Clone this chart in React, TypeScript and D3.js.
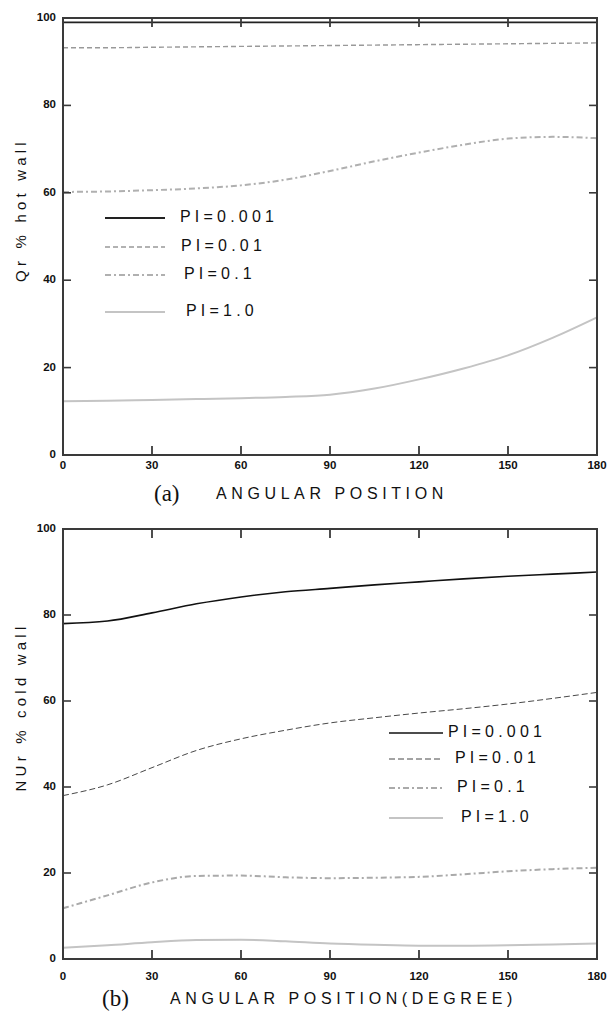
import React from "react";
import * as d3 from "d3";

const angles = [0, 15, 30, 45, 60, 75, 90, 105, 120, 135, 150, 165, 180];
const xTicks = [0, 30, 60, 90, 120, 150, 180];
const yTicks = [0, 20, 40, 60, 80, 100];
const legendLabels = ["PI=0.001", "PI=0.01", "PI=0.1", "PI=1.0"];

// (a) Qr % hot wall
const qrPi0001 = [99.0, 99.0, 99.0, 99.0, 99.0, 99.0, 99.0, 99.0, 99.0, 99.0, 99.0, 99.0, 99.0];
const qrPi001 = [93.2, 93.2, 93.3, 93.4, 93.5, 93.6, 93.7, 93.8, 93.9, 94.0, 94.1, 94.2, 94.3];
const qrPi01 = [60.2, 60.3, 60.6, 61.0, 61.7, 63.0, 65.0, 67.2, 69.2, 71.0, 72.4, 72.8, 72.5];
const qrPi1 = [12.3, 12.4, 12.6, 12.8, 13.0, 13.3, 13.8, 15.2, 17.3, 19.8, 22.8, 26.8, 31.5];

// (b) NUr % cold wall
const nuPi0001 = [78.0, 78.6, 80.5, 82.6, 84.2, 85.4, 86.2, 87.0, 87.7, 88.4, 89.0, 89.5, 90.0];
const nuPi001 = [38.0, 40.5, 44.5, 48.5, 51.2, 53.2, 54.9, 56.1, 57.2, 58.2, 59.3, 60.6, 62.0];
const nuPi01 = [11.8, 14.8, 17.8, 19.3, 19.4, 19.0, 18.8, 18.9, 19.1, 19.7, 20.4, 20.9, 21.2];
const nuPi1 = [2.6, 3.2, 3.9, 4.4, 4.5, 4.1, 3.6, 3.3, 3.1, 3.1, 3.2, 3.4, 3.6];

type Style = { stroke: string; width: number; dash?: string };

const stylesA: Style[] = [
  { stroke: "#222", width: 1.8 },
  { stroke: "#999", width: 1.4, dash: "5,3" },
  { stroke: "#b0b0b0", width: 2, dash: "6,3,2,3" },
  { stroke: "#c4c4c4", width: 2 },
];
const stylesB: Style[] = [
  { stroke: "#111", width: 1.6 },
  { stroke: "#333", width: 0.9, dash: "6,3" },
  { stroke: "#aaa", width: 2, dash: "6,3,2,3" },
  { stroke: "#c4c4c4", width: 2 },
];

const X0 = 63;
const X1 = 597;

interface PanelProps {
  yTop: number;
  yBot: number;
  series: number[][];
  styles: Style[];
  yTitle: string;
  yTitleX: number;
  yTitleY: number;
  legendX: [number, number];
  legendTextX: number[];
  legendY: number[];
  tickLabelY: number;
  letter: string;
  letterX: number;
  title: string;
  titleX: number;
  titleY: number;
}

function Panel(p: PanelProps) {
  const x = d3.scaleLinear().domain([0, 180]).range([X0, X1]);
  const y = d3.scaleLinear().domain([0, 100]).range([p.yBot, p.yTop]);
  const line = d3
    .line<number>()
    .x((_, i) => x(angles[i]))
    .y((d) => y(d))
    .curve(d3.curveMonotoneX);
  const tickFont = { fontFamily: "Liberation Sans, Arial, sans-serif", fontWeight: 700, fontSize: 11.5 } as const;
  const axisColor = "#3a3a3a";
  return (
    <g>
      {p.series.map((s, i) => (
        <path
          key={i}
          d={line(s) || ""}
          fill="none"
          stroke={p.styles[i].stroke}
          strokeWidth={p.styles[i].width}
          strokeDasharray={p.styles[i].dash}
        />
      ))}
      {/* frame */}
      <rect x={X0} y={p.yTop} width={X1 - X0} height={p.yBot - p.yTop} fill="none" stroke={axisColor} strokeWidth={2} />
      {/* ticks */}
      {xTicks.slice(1, -1).map((t) => (
        <g key={"xt" + t}>
          <line x1={x(t)} x2={x(t)} y1={p.yBot} y2={p.yBot - 9} stroke={axisColor} strokeWidth={1.8} />
          <line x1={x(t)} x2={x(t)} y1={p.yTop} y2={p.yTop + 9} stroke={axisColor} strokeWidth={1.8} />
        </g>
      ))}
      {yTicks.slice(1, -1).map((t) => (
        <g key={"yt" + t}>
          <line x1={X0} x2={X0 + 8} y1={y(t)} y2={y(t)} stroke={axisColor} strokeWidth={1.6} />
          <line x1={X1} x2={X1 - 8} y1={y(t)} y2={y(t)} stroke={axisColor} strokeWidth={1.6} />
        </g>
      ))}
      {/* tick labels */}
      {xTicks.map((t) => (
        <text key={"xl" + t} x={x(t)} y={p.tickLabelY} textAnchor="middle" dominantBaseline="middle" {...tickFont} fill="#111">
          {t}
        </text>
      ))}
      {yTicks.map((t) => (
        <text key={"yl" + t} x={56} y={y(t)} textAnchor="end" dominantBaseline="middle" {...tickFont} fill="#111">
          {t}
        </text>
      ))}
      {/* y title */}
      <text
        transform={`translate(${p.yTitleX},${p.yTitleY}) rotate(-90)`}
        textAnchor="middle"
        dominantBaseline="middle"
        fontFamily="Liberation Sans, Arial, sans-serif"
        fontSize={15}
        letterSpacing={4.2}
        fill="#111"
      >
        {p.yTitle}
      </text>
      {/* legend */}
      {legendLabels.map((lab, i) => (
        <g key={"lg" + i}>
          <line
            x1={p.legendX[0]}
            x2={p.legendX[1]}
            y1={p.legendY[i]}
            y2={p.legendY[i]}
            stroke={p.styles[i].stroke}
            strokeWidth={p.styles[i].width}
            strokeDasharray={p.styles[i].dash}
          />
          <text
            x={p.legendTextX[i]}
            y={p.legendY[i]}
            dominantBaseline="middle"
            fontFamily="Liberation Sans, Arial, sans-serif"
            fontSize={16}
            letterSpacing={4.2}
            fill="#111"
          >
            {lab}
          </text>
        </g>
      ))}
      {/* x title */}
      <text x={p.letterX} y={p.titleY + 2} fontFamily="Liberation Serif, Times New Roman, serif" fontSize={23} fill="#111">
        {p.letter}
      </text>
      <text
        x={p.titleX}
        y={p.titleY}
        fontFamily="Liberation Sans, Arial, sans-serif"
        fontSize={16}
        letterSpacing={4.6}
        fill="#111"
      >
        {p.title}
      </text>
    </g>
  );
}

export default function App() {
  return (
    <svg
      width={611}
      height={1019}
      viewBox="0 0 611 1019"
      style={{ position: "absolute", left: 0, top: 0, background: "#fff" }}
    >
      <rect x={0} y={0} width={611} height={1019} fill="#fff" />
      <Panel
        yTop={18}
        yBot={455}
        series={[qrPi0001, qrPi001, qrPi01, qrPi1]}
        styles={stylesA}
        yTitle="Qr % hot wall"
        yTitleX={22}
        yTitleY={210}
        legendX={[105, 165]}
        legendTextX={[180, 181, 184, 186]}
        legendY={[218, 247, 275, 312]}
        tickLabelY={466}
        letter="(a)"
        letterX={154}
        title="ANGULAR POSITION"
        titleX={216}
        titleY={499}
      />
      <Panel
        yTop={529}
        yBot={959}
        series={[nuPi0001, nuPi001, nuPi01, nuPi1]}
        styles={stylesB}
        yTitle="NUr % cold wall"
        yTitleX={22}
        yTitleY={707}
        legendX={[389, 443]}
        legendTextX={[448, 455, 457, 461]}
        legendY={[733, 759, 788, 818]}
        tickLabelY={977}
        letter="(b)"
        letterX={102}
        title="ANGULAR POSITION(DEGREE)"
        titleX={170}
        titleY={1004}
      />
    </svg>
  );
}
